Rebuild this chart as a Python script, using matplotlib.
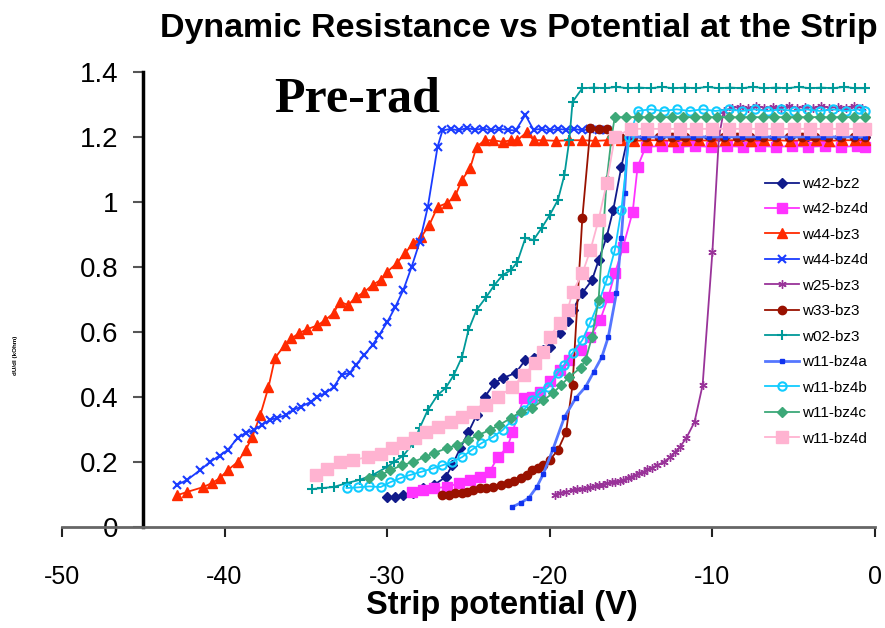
import numpy as np
import matplotlib
matplotlib.use('Agg')
import matplotlib.pyplot as plt

plt.rcParams['font.family'] = ['Liberation Sans', 'DejaVu Sans']
plt.rcParams['axes.unicode_minus'] = False

## Data: strip potential (V) vs dU/dI ##

labels = ['w42-bz2', 'w42-bz4d', 'w44-bz3', 'w44-bz4d', 'w25-bz3', 'w33-bz3',
          'w02-bz3', 'w11-bz4a', 'w11-bz4b', 'w11-bz4c', 'w11-bz4d']

w42_bz2_x = [-30.0, -29.5, -29.0, -28.4, -27.8, -27.1, -26.4, -26.0, -25.5, -25.0, -24.5, -24.0,
             -23.4, -22.9, -22.1, -21.5, -21.0, -20.4, -20.0, -19.4, -18.9, -18.6, -18.0, -17.4,
             -17.0, -16.5, -16.1, -15.6, -15.2, -14.2, -13.2, -12.2, -11.2, -10.2, -9.2, -8.2,
             -7.2, -6.2, -5.2, -4.2, -3.2, -2.2, -1.2, -0.6]
w42_bz2_y = [0.092, 0.092, 0.098, 0.105, 0.12, 0.13, 0.154, 0.19, 0.243, 0.292, 0.344, 0.4,
             0.443, 0.458, 0.474, 0.514, 0.52, 0.545, 0.554, 0.597, 0.635, 0.668, 0.72, 0.76,
             0.82, 0.893, 0.975, 1.108, 1.2, 1.2, 1.2, 1.2, 1.2, 1.2, 1.2, 1.2,
             1.2, 1.2, 1.2, 1.2, 1.2, 1.2, 1.2, 1.2]

w42_bz4d_x = [-28.5, -27.8, -27.1, -26.3, -25.6, -24.9, -24.3, -23.7, -23.2, -22.6, -22.3, -21.6,
              -21.1, -20.6, -20.0, -19.4, -18.8, -18.1, -17.5, -16.9, -16.4, -16.0, -15.5, -14.9,
              -14.6, -14.1, -13.1, -12.1, -11.1, -10.1, -9.1, -8.1, -7.1, -6.1, -5.1, -4.1,
              -3.1, -2.1, -1.1, -0.6]
w42_bz4d_y = [0.108, 0.114, 0.12, 0.123, 0.135, 0.145, 0.154, 0.17, 0.215, 0.246, 0.292, 0.397,
              0.40, 0.415, 0.45, 0.483, 0.514, 0.545, 0.585, 0.637, 0.708, 0.78, 0.86, 0.97,
              1.108, 1.17, 1.172, 1.17, 1.172, 1.17, 1.172, 1.17, 1.172, 1.17, 1.172, 1.17,
              1.172, 1.17, 1.172, 1.17]

w44_bz3_x = [-42.9, -42.3, -41.3, -40.8, -40.3, -39.8, -39.2, -38.7, -38.3, -37.8, -37.3, -36.9,
             -36.3, -35.9, -35.4, -34.9, -34.3, -33.8, -33.3, -32.9, -32.4, -31.9, -31.4, -30.9,
             -30.4, -30.0, -29.4, -28.9, -28.4, -27.9, -27.4, -26.9, -26.3, -25.8, -25.4, -24.9,
             -24.5, -24.0, -23.5, -22.9, -22.4, -22.0, -21.4, -21.0, -20.4, -19.6, -18.8, -18.0,
             -17.2, -16.4, -15.6, -14.8, -14.0, -13.2, -12.4, -11.6, -10.8, -10.0, -9.2, -8.4,
             -7.6, -6.8, -6.0, -5.2, -4.4, -3.6, -2.8, -2.0, -1.2, -0.6]
w44_bz3_y = [0.098, 0.108, 0.123, 0.135, 0.15, 0.175, 0.2, 0.237, 0.277, 0.345, 0.43, 0.52,
             0.56, 0.58, 0.597, 0.609, 0.62, 0.637, 0.658, 0.693, 0.683, 0.708, 0.723, 0.745,
             0.76, 0.785, 0.812, 0.843, 0.873, 0.893, 0.93, 0.985, 0.997, 1.02, 1.068, 1.104,
             1.17, 1.19, 1.19, 1.185, 1.19, 1.19, 1.215, 1.19, 1.19, 1.188, 1.19, 1.19,
             1.188, 1.19, 1.19, 1.188, 1.19, 1.19, 1.188, 1.19, 1.19, 1.188, 1.19, 1.19,
             1.188, 1.19, 1.19, 1.188, 1.19, 1.19, 1.188, 1.19, 1.19, 1.19]

w44_bz4d_x = [-42.9, -42.3, -41.5, -40.9, -40.3, -39.8, -39.2, -38.7, -38.2, -37.7, -37.2, -36.8,
              -36.2, -35.8, -35.3, -34.7, -34.3, -33.8, -33.3, -32.8, -32.3, -31.9, -31.4, -30.9,
              -30.5, -30.0, -29.5, -29.0, -28.5, -28.0, -27.5, -26.9, -26.6, -26.1, -25.6, -25.1,
              -24.6, -24.1, -23.6, -23.1, -22.6, -22.1, -21.5, -21.0, -20.5, -20.0, -19.5, -19.0,
              -18.5, -18.0, -17.5, -17.0, -16.5]
w44_bz4d_y = [0.13, 0.145, 0.175, 0.2, 0.22, 0.237, 0.274, 0.29, 0.298, 0.314, 0.33, 0.335,
              0.345, 0.36, 0.37, 0.385, 0.4, 0.412, 0.43, 0.468, 0.474, 0.5, 0.53, 0.56,
              0.59, 0.63, 0.677, 0.73, 0.8, 0.877, 0.985, 1.17, 1.22, 1.225, 1.22, 1.228,
              1.222, 1.226, 1.22, 1.225, 1.222, 1.22, 1.268, 1.222, 1.225, 1.22, 1.225, 1.222,
              1.225, 1.22, 1.225, 1.222, 1.22]

w25_bz3_x = [-19.7, -19.4, -19.0, -18.6, -18.3, -18.0, -17.7, -17.5, -17.2, -17.0, -16.7, -16.5,
             -16.2, -16.0, -15.7, -15.5, -15.2, -15.0, -14.7, -14.5, -14.2, -14.0, -13.7, -13.4,
             -13.0, -12.6, -12.3, -12.0, -11.6, -11.1, -10.6, -10.0, -9.6, -9.3, -8.8, -8.3,
             -7.8, -7.3, -6.8, -6.3, -5.8, -5.3, -4.8, -4.3, -3.8, -3.3, -2.8, -2.3, -1.8,
             -1.3, -0.8]
w25_bz3_y = [0.1, 0.105, 0.108, 0.114, 0.116, 0.118, 0.12, 0.123, 0.126, 0.128, 0.13, 0.135,
             0.137, 0.14, 0.142, 0.145, 0.15, 0.155, 0.16, 0.166, 0.17, 0.177, 0.183, 0.19,
             0.2, 0.215, 0.23, 0.246, 0.274, 0.323, 0.437, 0.846, 1.2, 1.28, 1.29, 1.292,
             1.29, 1.295, 1.29, 1.292, 1.29, 1.295, 1.29, 1.292, 1.29, 1.295, 1.29, 1.292, 1.29,
             1.295, 1.29]

w33_bz3_x = [-26.6, -26.2, -25.8, -25.4, -25.1, -24.7, -24.3, -23.9, -23.5, -23.0, -22.6, -22.2,
             -21.8, -21.4, -21.1, -20.7, -20.4, -20.0, -19.5, -19.0, -18.6, -18.0, -17.5, -17.0,
             -16.5, -15.7, -14.9, -14.1, -13.3, -12.5, -11.7, -10.9, -10.1, -9.3, -8.5, -7.7,
             -6.9, -6.1, -5.3, -4.5, -3.7, -2.9, -2.1, -1.3, -0.6]
w33_bz3_y = [0.098, 0.1, 0.105, 0.106, 0.108, 0.114, 0.12, 0.121, 0.123, 0.128, 0.135, 0.142,
             0.15, 0.16, 0.175, 0.182, 0.19, 0.206, 0.237, 0.292, 0.437, 0.95, 1.228, 1.226,
             1.225, 1.2, 1.2, 1.2, 1.2, 1.2, 1.2, 1.2, 1.2, 1.2, 1.2, 1.2,
             1.2, 1.2, 1.2, 1.2, 1.2, 1.2, 1.2, 1.2, 1.2]

w02_bz3_x = [-34.6, -34.0, -33.3, -32.5, -31.7, -30.9, -30.0, -29.6, -29.0, -28.4, -28.0, -27.5,
             -26.9, -26.4, -25.9, -25.4, -25.0, -24.5, -23.9, -23.4, -22.9, -22.4, -22.0, -21.5,
             -21.0, -20.5, -20.0, -19.5, -19.1, -18.8, -18.6, -18.0, -17.3, -16.6, -15.9, -15.2,
             -14.5, -13.8, -13.1, -12.4, -11.7, -11.0, -10.3, -9.6, -8.9, -8.2, -7.5, -6.8,
             -6.1, -5.4, -4.7, -4.0, -3.3, -2.6, -1.9, -1.2, -0.6]
w02_bz3_y = [0.117, 0.12, 0.123, 0.135, 0.145, 0.16, 0.185, 0.2, 0.22, 0.258, 0.305, 0.36,
             0.406, 0.428, 0.468, 0.523, 0.606, 0.668, 0.708, 0.745, 0.775, 0.79, 0.815, 0.889,
             0.883, 0.92, 0.96, 1.006, 1.083, 1.19, 1.308, 1.35, 1.352, 1.35, 1.354, 1.35,
             1.352, 1.35, 1.354, 1.35, 1.352, 1.35, 1.354, 1.35, 1.352, 1.35, 1.354, 1.35,
             1.352, 1.35, 1.354, 1.35, 1.352, 1.35, 1.354, 1.35, 1.35]

w11_bz4a_x = [-22.3, -21.8, -21.3, -20.8, -20.4, -19.8, -19.1, -18.4, -17.8, -17.3, -16.8, -16.4,
              -15.9, -15.6, -15.4, -15.2, -14.2, -13.2, -12.2, -11.2, -10.2, -9.2, -8.2, -7.2,
              -6.2, -5.2, -4.2, -3.2, -2.2, -1.2, -0.6]
w11_bz4a_y = [0.062, 0.074, 0.089, 0.123, 0.163, 0.24, 0.338, 0.397, 0.431, 0.477, 0.523, 0.585,
              0.72, 0.89, 1.028, 1.2, 1.2, 1.2, 1.2, 1.2, 1.2, 1.2, 1.2, 1.2,
              1.2, 1.2, 1.2, 1.2, 1.2, 1.2, 1.2]

w11_bz4b_x = [-32.5, -31.8, -31.1, -30.4, -29.8, -29.2, -28.6, -27.9, -27.2, -26.6, -26.0, -25.4,
              -24.8, -24.2, -23.5, -22.9, -22.3, -21.6, -21.1, -20.6, -20.1, -19.5, -19.1, -18.6,
              -18.0, -17.5, -17.0, -16.5, -16.0, -15.6, -15.1, -14.6, -13.8, -13.0, -12.2, -11.4,
              -10.6, -9.8, -9.0, -8.2, -7.4, -6.6, -5.8, -5.0, -4.2, -3.4, -2.6, -1.8, -1.0, -0.6]
w11_bz4b_y = [0.12, 0.122, 0.125, 0.123, 0.138, 0.15, 0.16, 0.17, 0.18, 0.19, 0.2, 0.215,
              0.237, 0.258, 0.277, 0.298, 0.33, 0.36, 0.39, 0.412, 0.43, 0.474, 0.5, 0.535,
              0.575, 0.63, 0.69, 0.76, 0.852, 0.975, 1.2, 1.28, 1.285, 1.28, 1.285, 1.28,
              1.285, 1.28, 1.285, 1.28, 1.285, 1.28, 1.285, 1.28, 1.285, 1.28, 1.285, 1.28, 1.285, 1.28]

w11_bz4c_x = [-31.1, -30.4, -29.8, -29.1, -28.4, -27.7, -27.1, -26.3, -25.7, -25.0, -24.4, -23.7,
              -23.1, -22.4, -21.8, -21.1, -20.4, -19.8, -19.3, -18.8, -18.1, -17.8, -17.4, -17.0,
              -16.5, -16.2, -16.0, -15.3, -14.6, -13.9, -13.2, -12.5, -11.8, -11.1, -10.4, -9.7,
              -9.0, -8.3, -7.6, -6.9, -6.2, -5.5, -4.8, -4.1, -3.4, -2.7, -2.0, -1.3, -0.6]
w11_bz4c_y = [0.15, 0.16, 0.175, 0.19, 0.2, 0.215, 0.228, 0.243, 0.252, 0.268, 0.283, 0.298,
              0.314, 0.335, 0.354, 0.366, 0.39, 0.412, 0.437, 0.462, 0.49, 0.514, 0.585, 0.698,
              1.068, 1.2, 1.262, 1.26, 1.262, 1.26, 1.262, 1.26, 1.262, 1.26, 1.262, 1.26,
              1.262, 1.26, 1.262, 1.26, 1.262, 1.26, 1.262, 1.26, 1.262, 1.26, 1.262, 1.26, 1.26]

w11_bz4d_x = [-34.4, -33.7, -32.9, -32.1, -31.2, -30.4, -29.7, -29.0, -28.3, -27.6, -26.9, -26.1,
              -25.4, -24.7, -23.9, -23.2, -22.3, -21.6, -20.9, -20.4, -20.0, -19.4, -18.9, -18.6,
              -18.0, -17.5, -17.0, -16.5, -16.0, -15.0, -14.0, -13.0, -12.0, -11.0, -10.0, -9.0,
              -8.0, -7.0, -6.0, -5.0, -4.0, -3.0, -2.0, -1.0, -0.6]
w11_bz4d_y = [0.16, 0.18, 0.2, 0.206, 0.215, 0.225, 0.243, 0.258, 0.274, 0.292, 0.308, 0.323,
              0.338, 0.354, 0.375, 0.4, 0.43, 0.468, 0.505, 0.538, 0.585, 0.628, 0.668, 0.723,
              0.78, 0.852, 0.945, 1.058, 1.2, 1.225, 1.225, 1.225, 1.225, 1.225, 1.225, 1.225,
              1.225, 1.225, 1.225, 1.225, 1.225, 1.225, 1.225, 1.225, 1.225]

xs = [w42_bz2_x, w42_bz4d_x, w44_bz3_x, w44_bz4d_x, w25_bz3_x, w33_bz3_x,
      w02_bz3_x, w11_bz4a_x, w11_bz4b_x, w11_bz4c_x, w11_bz4d_x]
ys = [w42_bz2_y, w42_bz4d_y, w44_bz3_y, w44_bz4d_y, w25_bz3_y, w33_bz3_y,
      w02_bz3_y, w11_bz4a_y, w11_bz4b_y, w11_bz4c_y, w11_bz4d_y]

## Styles (colour, marker, marker size) ##

styles = [
    dict(color='#101a8a', marker='D', ms=5),
    dict(color='#ff33ff', marker='s', ms=7),
    dict(color='#ff2a00', marker='^', ms=7),
    dict(color='#1a3cff', marker='x', ms=6, mew=1.5),
    dict(color='#993399', marker=(6, 2, 0), ms=6, mew=1.0),
    dict(color='#991100', marker='o', ms=6),
    dict(color='#009999', marker='+', ms=7, mew=1.5),
    dict(color='#5577ff', marker='s', ms=3, mfc='#1133ee', mec='#1133ee', lw=2),
    dict(color='#11ccff', marker='o', ms=6, mfc='none', mew=1.5),
    dict(color='#3ca878', marker='D', ms=5),
    dict(color='#ffb3d1', marker='s', ms=8),
]

fig = plt.figure(figsize=(8.85, 6.28), dpi=100)
ax = fig.add_axes([0.070, 0.1608, 0.9187, 0.7246])

for x, y, lab, st in zip(xs, ys, labels, styles):
    st = dict(st)
    lw = st.pop('lw', 1.3)
    ax.plot(x, y, label=lab, lw=lw, **st)

ax.set_xlim(-50, 0)
ax.set_ylim(0, 1.4)
ax.set_xticks([-50, -40, -30, -20, -10, 0])
ax.set_yticks([0, 0.2, 0.4, 0.6, 0.8, 1.0, 1.2, 1.4])
ax.set_yticklabels(['0', '0.2', '0.4', '0.6', '0.8', '1', '1.2', '1.4'])

# vertical axis crosses at -45 like the original spreadsheet chart
ax.spines['left'].set_position(('data', -45))
ax.spines['left'].set_linewidth(2.5)
ax.spines['bottom'].set_color('#666666')
ax.spines['bottom'].set_linewidth(2)
ax.spines['top'].set_visible(False)
ax.spines['right'].set_visible(False)

ax.tick_params(axis='y', direction='out', length=7, width=1.5, color='#555555',
               labelsize=20, pad=11)
ax.tick_params(axis='x', direction='out', length=7, width=1.5, color='#222222',
               labelsize=18, pad=20)

fig.text(0.567, 0.036, 'Strip potential (V)', fontsize=23.5, fontweight='bold',
         ha='center', va='center')
fig.text(0.018, 0.435, 'dU/dI (kOhm)', rotation=90, fontsize=4.5, fontweight='bold',
         ha='center', va='center')

fig.text(0.586, 0.955, 'Dynamic Resistance vs Potential at the Strip', fontsize=24.5,
         fontweight='bold', ha='center', va='center')
fig.text(0.310, 0.822, 'Pre-rad', fontsize=36, fontweight='bold',
         family='Liberation Serif', ha='left', va='baseline')

ax.legend(loc='upper left', bbox_to_anchor=(0.858, 0.728), bbox_transform=fig.transFigure,
          frameon=False, fontsize=11, handlelength=2.2, handletextpad=0.2,
          labelspacing=0.75, borderaxespad=0)

fig.savefig('out.png', dpi=100)
